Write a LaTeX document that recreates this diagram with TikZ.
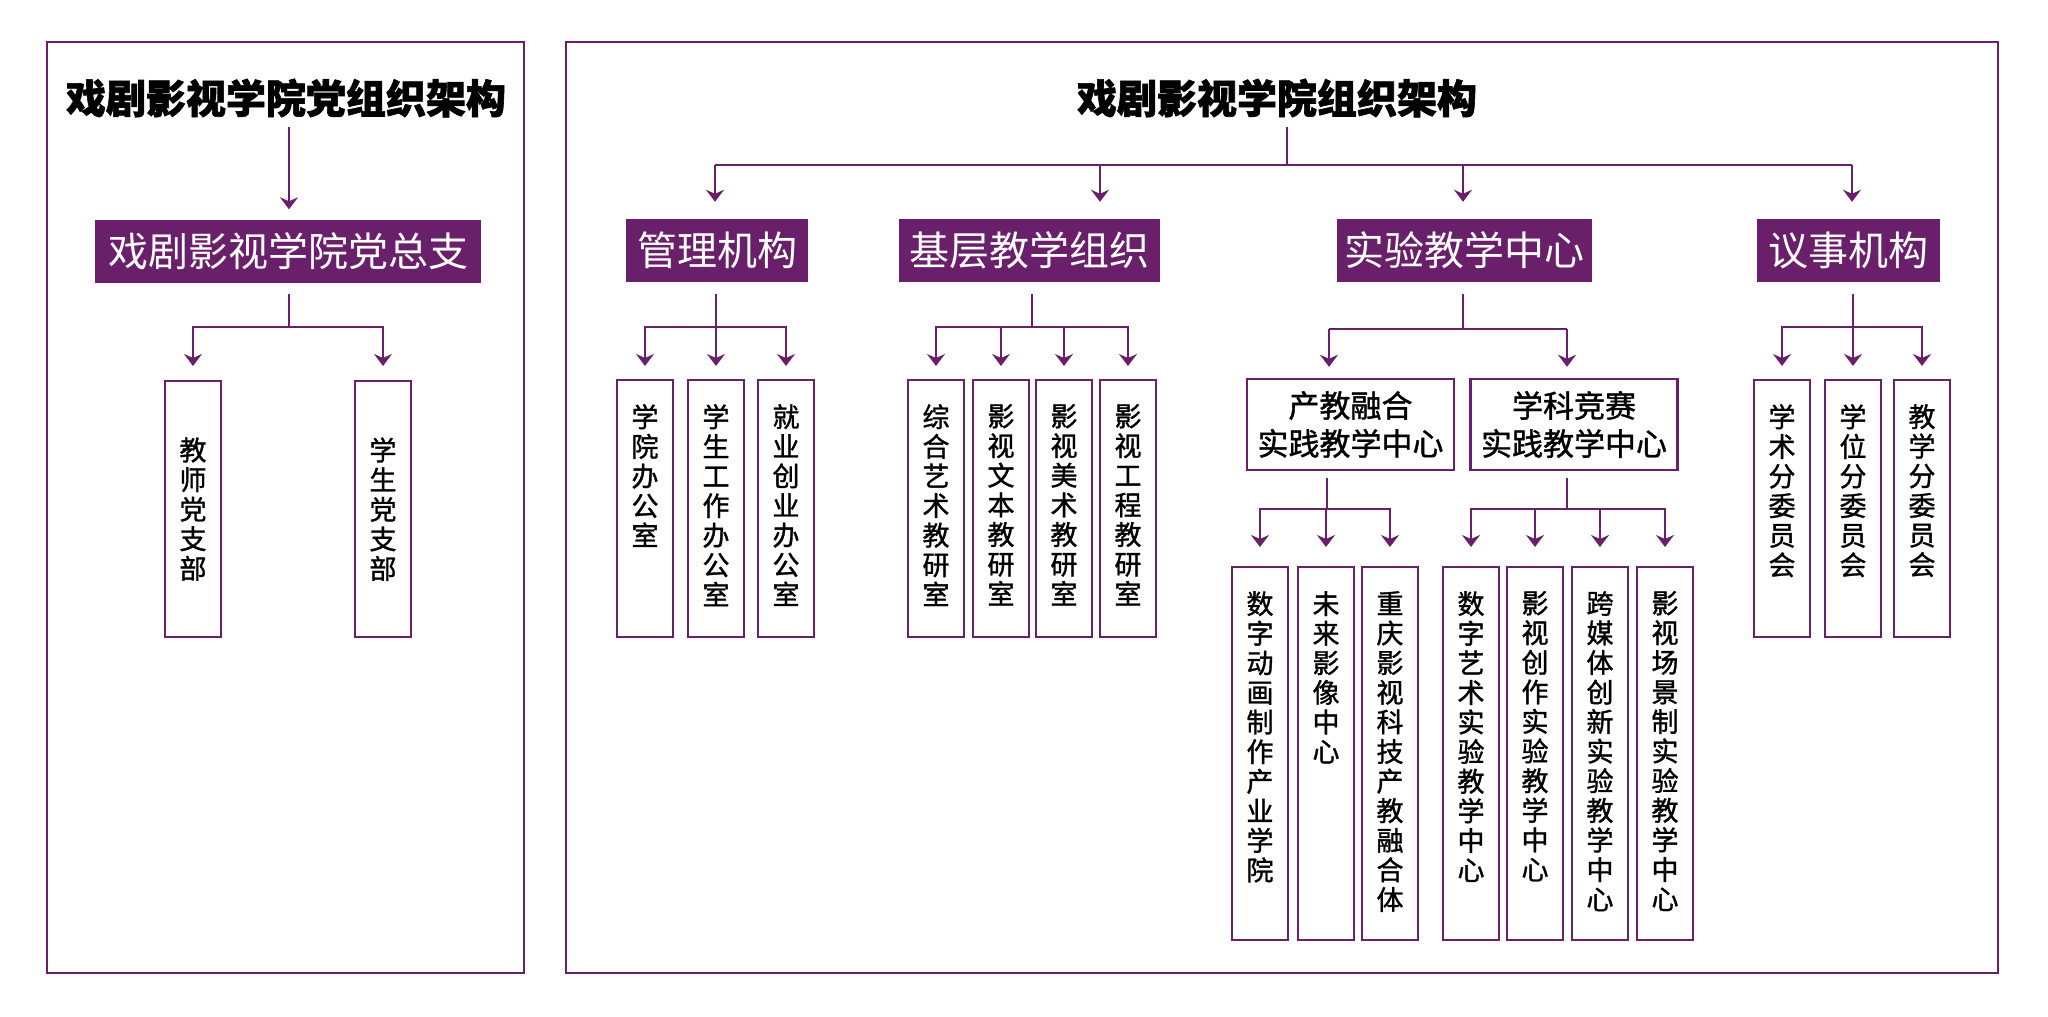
\documentclass[tikz,border=0pt]{standalone}
\usepackage{fontspec}
\setmainfont{Noto Sans CJK SC}
\newfontfamily\cjkmed{Noto Sans CJK SC}[FakeBold=1.2]
\newfontfamily\cjkheavy{Noto Sans CJK SC}[BoldFeatures={FakeBold=1.5}]
\usetikzlibrary{arrows.meta}
\definecolor{pp}{RGB}{106,31,106}
\ExplSyntaxOn
\NewDocumentCommand\vchars{m}{\tl_map_inline:nn{#1}{##1\par}}
\ExplSyntaxOff
\newcommand\vtopbox[2]{\parbox[c][#1][t]{56pt}{\centering\cjkmed\fontsize{27}{29.6}\selectfont\vspace*{24pt}\vchars{#2}}}
\newcommand\vmidbox[2]{\parbox[c][#1][c]{56pt}{\centering\cjkmed\fontsize{27}{29.6}\selectfont\vchars{#2}}}
\begin{document}
\begin{tikzpicture}[x=1pt,y=-1pt,
  frame/.style={draw=pp,line width=2.5pt},
  conn/.style={draw=pp,line width=2.2pt},
  arr/.style={conn,-{Stealth[length=12pt,width=18pt,inset=4pt]}},
  ttl/.style={font=\cjkheavy\bfseries\fontsize{40}{48}\selectfont,inner sep=0pt},
  pbox/.style={fill=pp,text=white,font=\fontsize{40}{48}\selectfont,inner sep=0pt,minimum height=63pt},
  tbox/.style={draw=pp,line width=2.4pt,align=center,font=\cjkmed\fontsize{31}{38}\selectfont,inner sep=0pt,minimum width=207pt,minimum height=91pt},
  vbox/.style={draw=pp,line width=2.4pt,inner sep=0pt,anchor=north}]
\path[use as bounding box,fill=white] (0,0) rectangle (2048,1017);
\draw[frame] (47,42) rectangle (524,973);
\draw[frame] (566,42) rectangle (1998,973);

% ---------- left panel ----------
\node[ttl] (lt) at (286,98) {戏剧影视学院党组织架构};
\node[pbox,minimum width=386pt] (zzb) at (288,251) {戏剧影视学院党总支};
\node[vbox] (jsd) at (193,380) {\vmidbox{256pt}{教师党支部}};
\node[vbox] (xsd) at (383,380) {\vmidbox{256pt}{学生党支部}};
\draw[arr,shorten >=10pt] (289,127) -- (289,0 |- zzb.north);
\coordinate (lbus) at (289,327);
\draw[conn] (289,294) -- (lbus);
\draw[arr,shorten >=14pt] (lbus) -| (jsd.north);
\draw[arr,shorten >=14pt] (lbus) -| (xsd.north);

% ---------- right panel ----------
\node[ttl] (rt) at (1277,98) {戏剧影视学院组织架构};
\node[pbox,minimum width=182pt] (gl) at (717,250.5) {管理机构};
\node[pbox,minimum width=261pt] (jc) at (1029.5,250.5) {基层教学组织};
\node[pbox,minimum width=255pt] (sy) at (1464.5,250.5) {实验教学中心};
\node[pbox,minimum width=183pt] (ys) at (1848.5,250.5) {议事机构};
\coordinate (rbus) at (1287,165);
\draw[conn] (1287,127) -- (rbus);
\draw[conn] (715,165) -- (1852,165);
\draw[arr,shorten >=17pt] (715,165) -- (715,0 |- gl.north);
\draw[arr,shorten >=17pt] (1100,165) -- (1100,0 |- jc.north);
\draw[arr,shorten >=17pt] (1463,165) -- (1463,0 |- sy.north);
\draw[arr,shorten >=17pt] (1852,165) -- (1852,0 |- ys.north);

% 管理机构
\node[vbox] (g1) at (645,379) {\vtopbox{257pt}{学院办公室}};
\node[vbox] (g2) at (716,379) {\vtopbox{257pt}{学生工作办公室}};
\node[vbox] (g3) at (786,379) {\vtopbox{257pt}{就业创业办公室}};
\coordinate (gbus) at (716,327);
\draw[conn] (716,294) -- (gbus);
\foreach \n in {g1,g2,g3} \draw[arr,shorten >=13pt] (gbus) -| (\n.north);

% 基层教学组织
\node[vbox] (j1) at (936,379) {\vtopbox{257pt}{综合艺术教研室}};
\node[vbox] (j2) at (1001,379) {\vtopbox{257pt}{影视文本教研室}};
\node[vbox] (j3) at (1064,379) {\vtopbox{257pt}{影视美术教研室}};
\node[vbox] (j4) at (1128,379) {\vtopbox{257pt}{影视工程教研室}};
\coordinate (jbus) at (1032,327);
\draw[conn] (1032,294) -- (jbus);
\foreach \n in {j1,j2,j3,j4} \draw[arr,shorten >=13pt] (jbus) -| (\n.north);

% 实验教学中心
\node[tbox] (cj) at (1350.5,424.5) {产教融合\\实践教学中心};
\node[tbox] (xk) at (1574,424.5) {学科竞赛\\实践教学中心};
\coordinate (sbus) at (1463,329);
\draw[conn] (1463,294) -- (sbus);
\draw[conn] (1329,329) -- (1567,329);
\draw[arr,shorten >=11pt] (1329,329) -- (1329,0 |- cj.north);
\draw[arr,shorten >=11pt] (1567,329) -- (1567,0 |- xk.north);

\node[vbox] (c1) at (1260,566) {\vtopbox{373pt}{数字动画制作产业学院}};
\node[vbox] (c2) at (1326,566) {\vtopbox{373pt}{未来影像中心}};
\node[vbox] (c3) at (1390,566) {\vtopbox{373pt}{重庆影视科技产教融合体}};
\coordinate (cbus) at (1327,509);
\draw[conn] (1327,478) -- (cbus);
\foreach \n in {c1,c2,c3} \draw[arr,shorten >=19pt] (cbus) -| (\n.north);

\node[vbox] (k1) at (1471,566) {\vtopbox{373pt}{数字艺术实验教学中心}};
\node[vbox] (k2) at (1535,566) {\vtopbox{373pt}{影视创作实验教学中心}};
\node[vbox] (k3) at (1600,566) {\vtopbox{373pt}{跨媒体创新实验教学中心}};
\node[vbox] (k4) at (1665,566) {\vtopbox{373pt}{影视场景制实验教学中心}};
\coordinate (kbus) at (1567,509);
\draw[conn] (1567,478) -- (kbus);
\foreach \n in {k1,k2,k3,k4} \draw[arr,shorten >=19pt] (kbus) -| (\n.north);

% 议事机构
\node[vbox] (y1) at (1782,379) {\vtopbox{257pt}{学术分委员会}};
\node[vbox] (y2) at (1853,379) {\vtopbox{257pt}{学位分委员会}};
\node[vbox] (y3) at (1922,379) {\vtopbox{257pt}{教学分委员会}};
\coordinate (ybus) at (1853,327);
\draw[conn] (1853,294) -- (ybus);
\foreach \n in {y1,y2,y3} \draw[arr,shorten >=13pt] (ybus) -| (\n.north);
\end{tikzpicture}
\end{document}
